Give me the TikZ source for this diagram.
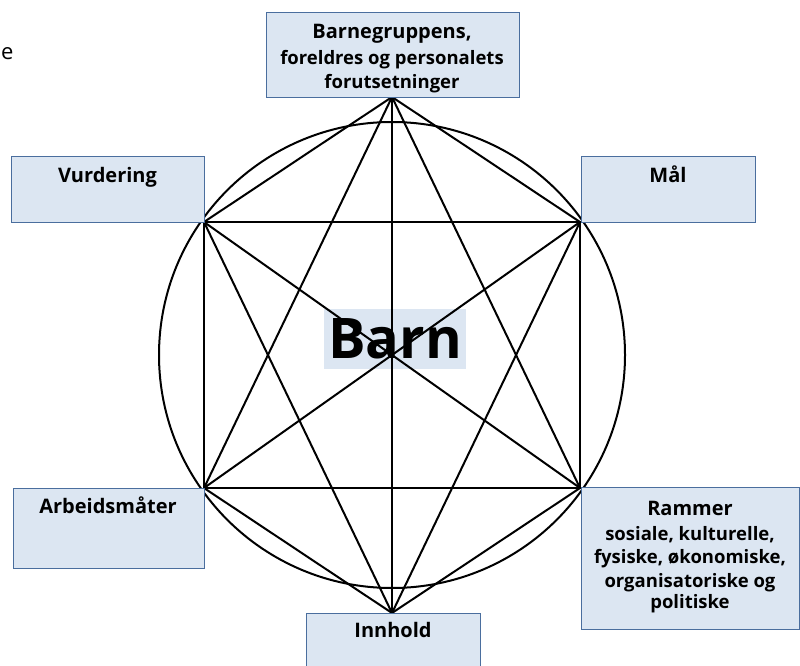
\documentclass[tikz,border=0pt]{standalone}
\usepackage{fontspec}
\setmainfont{Open Sans}
\definecolor{boksfyll}{HTML}{DCE6F2}
\definecolor{bokslinje}{HTML}{4A6E9E}
\begin{document}
\begin{tikzpicture}[x=1pt,y=-1pt,
        boks/.style={draw=bokslinje,fill=boksfyll,line width=0.9pt,anchor=north west,inner sep=0pt},
        overskrift/.style={font=\fontsize{20}{24}\selectfont\bfseries,anchor=base},
        brodtekst/.style={font=\fontsize{18.5}{23}\selectfont\bfseries,anchor=base}]
        \useasboundingbox (0,0) rectangle (800,666);
        \clip (0,0) rectangle (800,666);
        \node[font=\fontsize{22}{26}\selectfont,anchor=base west,inner sep=0pt] (rest) at (1,60) {e};
        % hjornene
        \coordinate (T) at (392,97);
        \coordinate (UR) at (580,222);
        \coordinate (LR) at (580,488);
        \coordinate (B) at (392,613);
        \coordinate (LL) at (204,488);
        \coordinate (UL) at (204,222);
        \node[fill=boksfyll,minimum width=142pt,minimum height=60pt,inner sep=0pt,
                font=\fontsize{56}{60}\selectfont\bfseries] (barn) at (395,339) {Barn};
        \draw[line width=2pt] (392,355) circle (233pt);
        \foreach \a/\b in {T/UR,T/LR,T/B,T/LL,T/UL,UR/LR,UR/B,UR/LL,UR/UL,
                LR/B,LR/LL,LR/UL,B/LL,B/UL,LL/UL} {
        \draw[line width=2pt,line cap=round] (\a) -- (\b);
        }
        % boksene
        \node[boks,minimum width=253pt,minimum height=85pt] (forutsetninger) at (266,12) {};
        \node[boks,minimum width=193pt,minimum height=66pt] (vurdering) at (11,156) {};
        \node[boks,minimum width=174pt,minimum height=66pt] (maal) at (581,156) {};
        \node[boks,minimum width=191pt,minimum height=80pt] (arbeidsmaater) at (13,488) {};
        \node[boks,minimum width=218pt,minimum height=142pt] (rammer) at (581,487) {};
        \node[boks,minimum width=174pt,minimum height=90pt] (innhold) at (306,613) {};
        \begin{scope}
        \clip (266,12) rectangle (519,97);
        \node[overskrift] (forutsetninger1) at (392,39) {Barnegruppens,};
        \node[brodtekst] (forutsetninger2) at (392,65) {foreldres og personalets};
        \node[brodtekst] (forutsetninger3) at (392,89) {forutsetninger};
        \end{scope}
        \node[overskrift] (vurderingtekst) at (107.5,182) {Vurdering};
        \node[overskrift] (maaltekst) at (668,182) {Mål};
        \node[overskrift] (arbeidsmaatertekst) at (108,513) {Arbeidsmåter};
        \node[overskrift] (rammertekst) at (690,515) {Rammer};
        \foreach \linje/\tekst in {540/{sosiale, kulturelle,},563/{fysiske, økonomiske,},
                587/{organisatoriske og},608/{politiske}} {
        \node[brodtekst] at (690,\linje) {\tekst};
        }
        \node[overskrift] (innholdtekst) at (393,637) {Innhold};
\end{tikzpicture}
\end{document}
